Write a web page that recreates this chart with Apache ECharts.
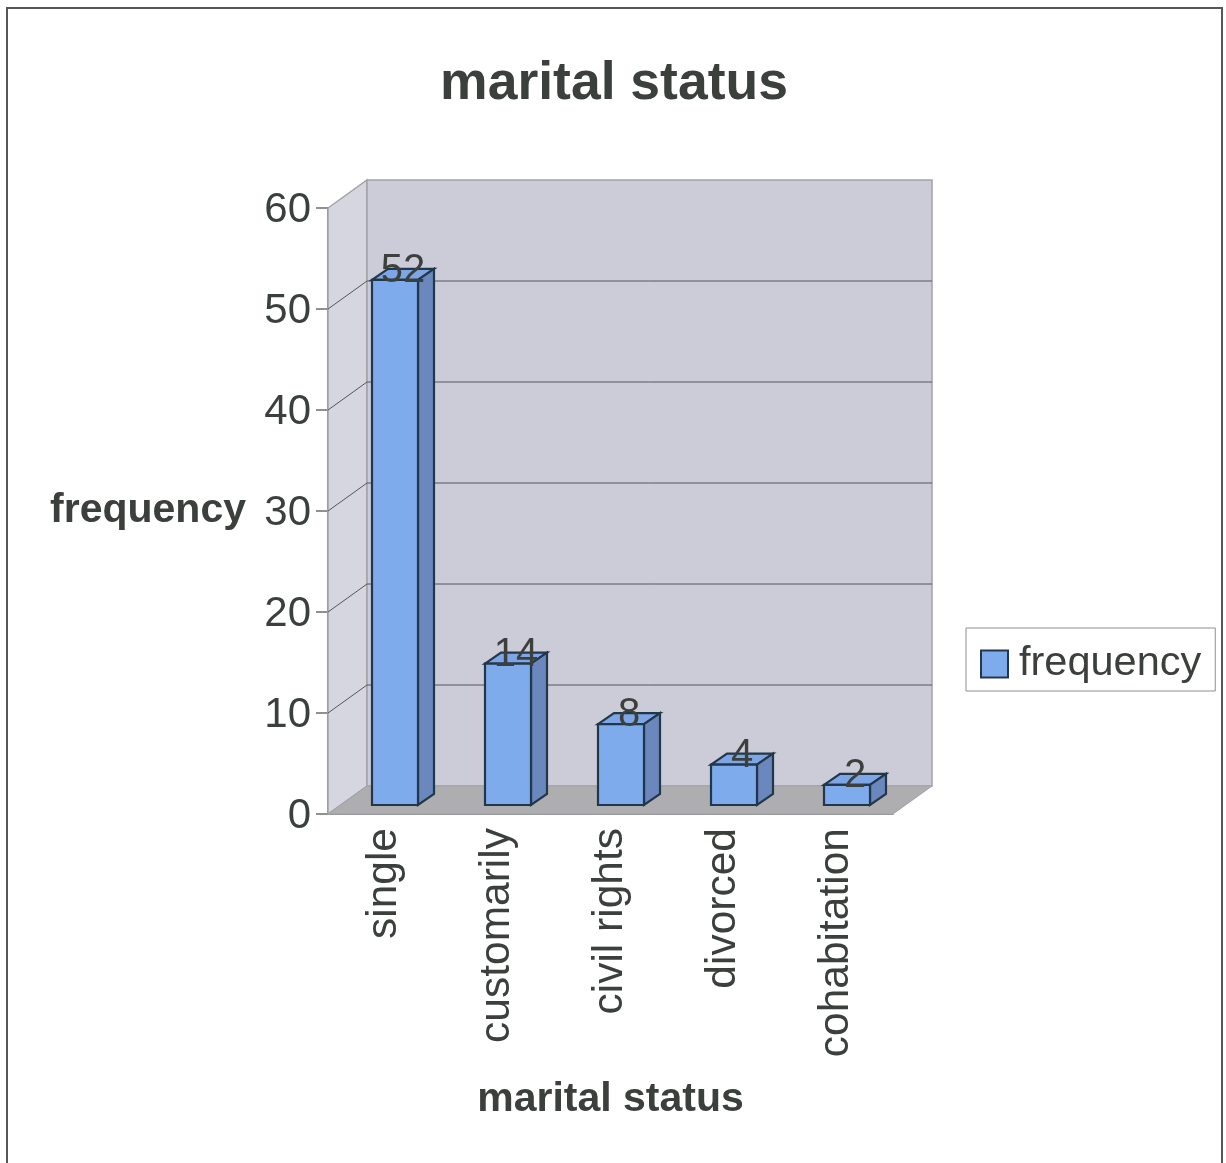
<!DOCTYPE html>
<html>
<head>
<meta charset="utf-8" />
<title>marital status</title>
<script src="https://cdn.jsdelivr.net/npm/echarts@6/dist/echarts.min.js"></script>
<style>
  html, body { margin: 0; padding: 0; background: #fff; }
  #chart { width: 1226px; height: 1163px; }
</style>
</head>
<body>
<div id="chart"></div>
<script>
const categories = ["single", "customarily", "civil rights", "divorced", "cohabitation"];
const frequency = [52, 14, 8, 4, 2];
const yTicks = [0, 10, 20, 30, 40, 50, 60];

const FONT = '"Liberation Sans", Arial, sans-serif';
const TEXT = "#3b403d";
// 3d look: how far the back wall and the bars are pushed
const WALL_DX = 39, WALL_DY = -28;
const BAR_DX = 10.5, BAR_DY = -9, BAR_DEPTH_X = 16, BAR_DEPTH_Y = -11;
const BAR_RATIO = 46 / 113;

const poly = (points, fill, stroke, lineWidth) => ({
  type: "polygon",
  shape: { points },
  style: { fill, stroke, lineWidth },
});

// walls, floor and grid lines, all from the axis scales
function renderWalls(params, api) {
  const [x0, y0] = api.coord([0, 0]);
  const band = api.size([1, 0])[0];
  const x1 = x0 - band / 2 + band * categories.length;
  const left = x0 - band / 2;
  const top = api.coord([0, yTicks[yTicks.length - 1]])[1];
  const d = [WALL_DX, WALL_DY];
  const children = [
    poly([[left, top], [left + d[0], top + d[1]], [left + d[0], y0 + d[1]], [left, y0]], "#d5d6e0", "#a3a3a8", 1.5),
    poly([[left + d[0], top + d[1]], [x1 + d[0], top + d[1]], [x1 + d[0], y0 + d[1]], [left + d[0], y0 + d[1]]], "#cbccd7", "#a3a3a8", 1.5),
    poly([[left, y0], [left + d[0], y0 + d[1]], [x1 + d[0], y0 + d[1]], [x1, y0]], "#aeaeb0", "#a3a3a8", 1),
  ];
  yTicks.slice(1, -1).forEach((t) => {
    const y = api.coord([0, t])[1];
    children.push({
      type: "polyline",
      shape: { points: [[left, y], [left + d[0], y + d[1]], [x1 + d[0], y + d[1]]] },
      style: { fill: "none", stroke: "#55565a", lineWidth: 1 },
    });
  });
  return { type: "group", children };
}

function renderBar(params, api) {
  const value = api.value(1);
  const [cx, yTop] = api.coord([api.value(0), value]);
  const yBase = api.coord([api.value(0), 0])[1];
  const w = api.size([1, 0])[0] * BAR_RATIO;
  const l = cx + BAR_DX - w / 2;
  const r = l + w;
  const t = yTop + BAR_DY;
  const b = yBase + BAR_DY;
  const dx = BAR_DEPTH_X, dy = BAR_DEPTH_Y;
  const edge = "#22384a";
  return {
    type: "group",
    children: [
      poly([[l, t], [l + dx, t + dy], [r + dx, t + dy], [r, t]], "#7ea6e6", edge, 2.2),
      poly([[r, t], [r + dx, t + dy], [r + dx, b + dy], [r, b]], "#6a88bd", edge, 2.2),
      poly([[l, t], [r, t], [r, b], [l, b]], "#7dabec", edge, 2.2),
      {
        type: "text",
        style: {
          text: String(value),
          x: cx + BAR_DX + dx / 2,
          y: t + 11,
          align: "center",
          verticalAlign: "bottom",
          font: "40px " + FONT,
          fill: TEXT,
        },
      },
    ],
  };
}

const options = {
  backgroundColor: "#fff",
  animation: false,
  title: {
    text: "marital status",
    left: 609,
    top: 52,
    textAlign: "center",
    textStyle: { fontFamily: FONT, fontSize: 53.5, fontWeight: "bold", color: TEXT },
  },
  legend: {
    left: 966,
    top: 628,
    padding: [15, 14, 6, 14],
    borderColor: "#8a8f94",
    borderWidth: 1,
    itemWidth: 27,
    itemHeight: 27,
    itemGap: 0,
    data: [
      {
        name: "frequency",
        icon: "rect",
        itemStyle: { color: "#7dabec", borderColor: "#22384a", borderWidth: 2 },
      },
    ],
    textStyle: { fontFamily: FONT, fontSize: 41.5, color: TEXT, padding: [0, 0, 0, 6] },
  },
  grid: { left: 328, top: 208, width: 565, height: 606 },
  xAxis: {
    type: "category",
    data: categories,
    name: "marital status",
    nameLocation: "middle",
    nameGap: 265,
    nameTextStyle: { fontFamily: FONT, fontSize: 41, fontWeight: "bold", color: TEXT },
    axisLine: { lineStyle: { color: "#6a6c6f", width: 1.5 } },
    axisTick: { length: 12, lineStyle: { color: "#6a6c6f", width: 1.5 } },
    axisLabel: {
      interval: 0,
      rotate: 90,
      margin: 14,
      fontFamily: FONT,
      fontSize: 42.5,
      color: TEXT,
    },
    splitLine: { show: false },
  },
  yAxis: {
    type: "value",
    min: 0,
    max: 60,
    interval: 10,
    name: "frequency",
    nameLocation: "middle",
    nameRotate: 0,
    nameGap: 82,
    nameTextStyle: { fontFamily: FONT, fontSize: 41, fontWeight: "bold", color: TEXT },
    axisLine: { show: true, lineStyle: { color: "#6a6c6f", width: 1.5 } },
    axisTick: { show: true, length: 12, lineStyle: { color: "#6a6c6f", width: 1.5 } },
    axisLabel: {
      margin: 17,
      formatter: "{v|{value}}",
      rich: { v: { fontFamily: FONT, fontSize: 42, color: TEXT, padding: [4, 0, 0, 0] } },
    },
    splitLine: { show: false },
  },
  series: [
    {
      name: "walls",
      type: "custom",
      silent: true,
      clip: false,
      z: 1,
      renderItem: renderWalls,
      data: [[0, 0]],
    },
    {
      name: "frequency",
      type: "custom",
      clip: false,
      z: 3,
      itemStyle: { color: "#7dabec" },
      renderItem: renderBar,
      encode: { x: 0, y: 1 },
      data: categories.map((c, i) => [i, frequency[i]]),
    },
  ],
  // scanned page frame
  graphic: [
    {
      type: "polyline",
      silent: true,
      shape: { points: [[7, 1163], [7, 8], [1222, 8], [1222, 1163]] },
      style: { fill: "none", stroke: "#55585a", lineWidth: 2 },
    },
  ],
};

const chart = echarts.init(document.getElementById("chart"));
chart.setOption(options);
</script>
</body>
</html>
